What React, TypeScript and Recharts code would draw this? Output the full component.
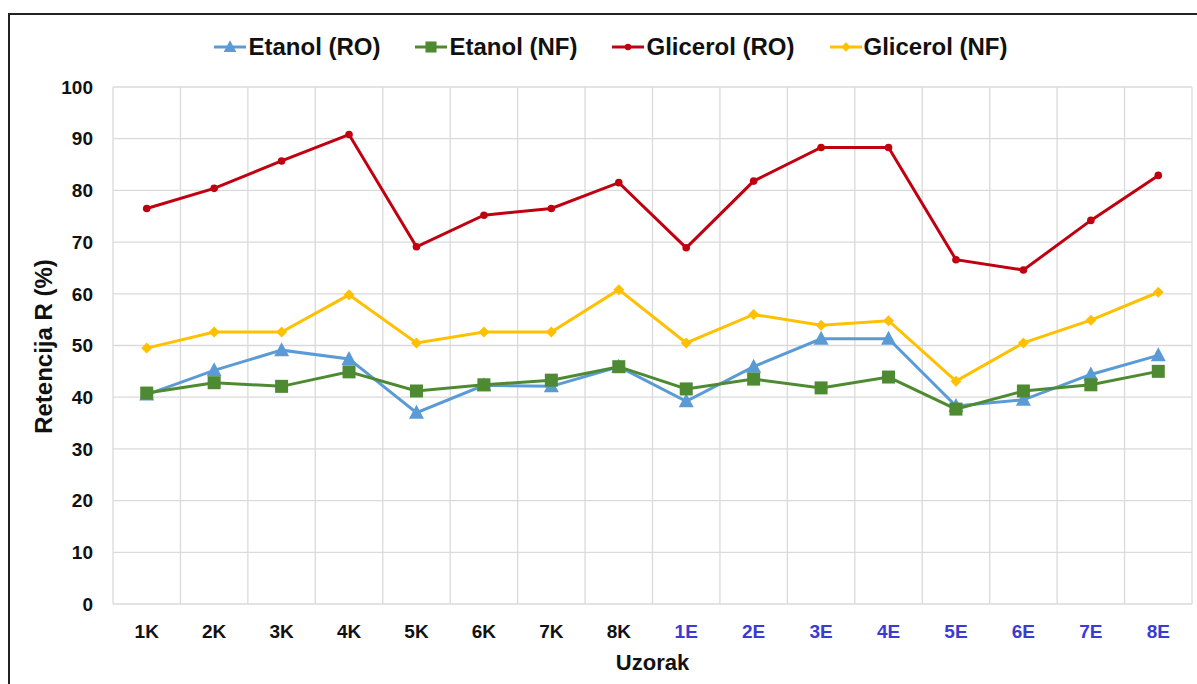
import React from "react";
import { LineChart, Line, XAxis, YAxis, CartesianGrid, Legend } from "recharts";

const FONT = '"Liberation Sans", Arial, sans-serif';

const samples = ["1K", "2K", "3K", "4K", "5K", "6K", "7K", "8K", "1E", "2E", "3E", "4E", "5E", "6E", "7E", "8E"];
const etanolRO = [40.5, 45.2, 49.1, 47.4, 37.0, 42.3, 42.1, 45.9, 39.2, 45.9, 51.3, 51.3, 38.3, 39.5, 44.4, 48.1];
const etanolNF = [40.8, 42.8, 42.1, 44.9, 41.2, 42.4, 43.3, 45.9, 41.6, 43.5, 41.8, 43.9, 37.7, 41.2, 42.4, 45.0];
const glicerolRO = [76.5, 80.4, 85.7, 90.8, 69.1, 75.2, 76.5, 81.5, 68.9, 81.8, 88.3, 88.3, 66.6, 64.6, 74.2, 82.9];
const glicerolNF = [49.5, 52.6, 52.6, 59.8, 50.5, 52.6, 52.6, 60.8, 50.5, 56.0, 53.9, 54.8, 43.1, 50.5, 54.9, 60.3];
const yTicks = [0, 10, 20, 30, 40, 50, 60, 70, 80, 90, 100];

const data = samples.map((s, i) => ({
  name: s,
  etanolRO: etanolRO[i],
  etanolNF: etanolNF[i],
  glicerolRO: glicerolRO[i],
  glicerolNF: glicerolNF[i],
}));

const SERIES = [
  { key: "etanolRO", name: "Etanol (RO)", color: "#5B9BD5", shape: "triangle" },
  { key: "etanolNF", name: "Etanol (NF)", color: "#4E8A32", shape: "square" },
  { key: "glicerolRO", name: "Glicerol (RO)", color: "#C00010", shape: "circle" },
  { key: "glicerolNF", name: "Glicerol (NF)", color: "#FFC000", shape: "diamond" },
];

const Marker = ({ shape, cx, cy, color, s = 1 }: any) => {
  if (cx == null || cy == null) return null;
  if (shape === "triangle") {
    return <polygon points={`${cx},${cy - 8 * s} ${cx + 7.5 * s},${cy + 6 * s} ${cx - 7.5 * s},${cy + 6 * s}`} fill={color} />;
  }
  if (shape === "square") {
    return <rect x={cx - 6.5 * s} y={cy - 6.5 * s} width={13 * s} height={13 * s} fill={color} />;
  }
  if (shape === "diamond") {
    return <polygon points={`${cx},${cy - 5.5 * s} ${cx + 5.5 * s},${cy} ${cx},${cy + 5.5 * s} ${cx - 5.5 * s},${cy}`} fill={color} />;
  }
  return <circle cx={cx} cy={cy} r={3.8 * s} fill={color} />;
};

const XTick = ({ x, y, payload }: any) => {
  const isE = String(payload.value).endsWith("E");
  return (
    <text x={x} y={y} dy="0.71em" textAnchor="middle" fontFamily={FONT} fontWeight="bold" fontSize={19} fill={isE ? "#3A3AD4" : "#111"}>
      {payload.value}
    </text>
  );
};

const LegendContent = () => (
  <div style={{ display: "flex", justifyContent: "center", gap: 35, paddingLeft: 15, fontFamily: FONT, fontWeight: "bold", fontSize: 24, color: "#111" }}>
    {SERIES.map((s) => (
      <div key={s.key} style={{ display: "flex", alignItems: "center" }}>
        <svg width={32} height={20} style={{ marginRight: 2 }}>
          <line x1={0} y1={10} x2={32} y2={10} stroke={s.color} strokeWidth={3} />
          <Marker shape={s.shape} cx={16} cy={10} color={s.color} s={0.85} />
        </svg>
        <span>{s.name}</span>
      </div>
    ))}
  </div>
);

export default function App() {
  return (
    <div
      style={{
        position: "absolute",
        left: 8,
        top: 13,
        width: 1189,
        height: 671,
        borderLeft: "2px solid #222",
        borderTop: "2px solid #222",
        background: "#fff",
        boxSizing: "border-box",
      }}
    >
      <LineChart width={1187} height={669} data={data} margin={{ top: 72, right: 5, bottom: 0, left: 0 }}>
        <CartesianGrid
          stroke="#DADADA"
          strokeWidth={1.3}
          verticalCoordinatesGenerator={({ offset }: any) =>
            Array.from({ length: samples.length + 1 }, (_, i) => offset.left + (i * offset.width) / samples.length)
          }
        />
        <XAxis
          dataKey="name"
          scale="band"
          height={80}
          axisLine={false}
          tickLine={false}
          tickSize={0}
          tickMargin={21}
          interval={0}
          tick={<XTick />}
          label={{
            content: ({ viewBox }: any) => (
              <text x={viewBox.x + viewBox.width / 2} y={viewBox.y + 66} textAnchor="middle" fontFamily={FONT} fontWeight="bold" fontSize={22} fill="#111">
                Uzorak
              </text>
            ),
          }}
        />
        <YAxis
          width={103}
          domain={[0, 100]}
          ticks={yTicks}
          interval={0}
          axisLine={false}
          tickLine={false}
          tickSize={0}
          tickMargin={20}
          tick={{ fontFamily: FONT, fontWeight: "bold", fontSize: 19, fill: "#111" }}
          label={{
            content: ({ viewBox }: any) => {
              const cx = 33;
              const cy = viewBox.y + viewBox.height / 2 + 1;
              return (
                <text x={cx} y={cy} transform={`rotate(-90 ${cx} ${cy})`} textAnchor="middle" dominantBaseline="central" fontFamily={FONT} fontWeight="bold" fontSize={24} fill="#111">
                  Retencija R (%)
                </text>
              );
            },
          }}
        />
        <Legend verticalAlign="middle" align="center" content={<LegendContent />} wrapperStyle={{ top: 18, left: 0, width: 1187 }} />
        {SERIES.map((s) => (
          <Line
            key={s.key}
            type="linear"
            dataKey={s.key}
            name={s.name}
            stroke={s.color}
            strokeWidth={3}
            isAnimationActive={false}
            dot={(p: any) => <Marker key={`${s.key}-${p.index}`} shape={s.shape} cx={p.cx} cy={p.cy} color={s.color} />}
            activeDot={false}
          />
        ))}
      </LineChart>
    </div>
  );
}
